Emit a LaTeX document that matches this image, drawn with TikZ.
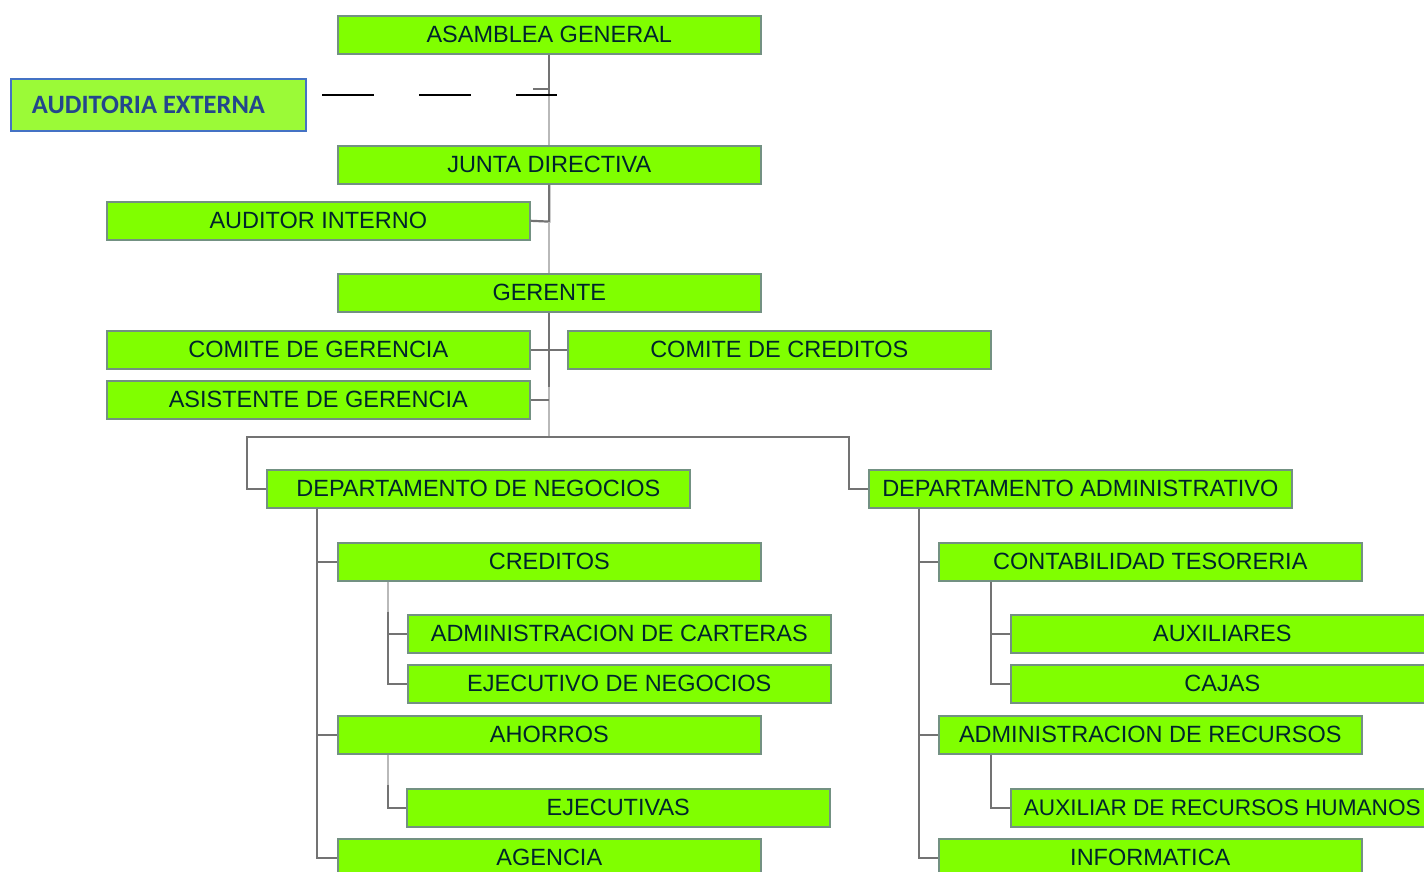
\documentclass[tikz,border=0pt]{standalone}
\usepackage{fontspec}
\setmainfont{Liberation Sans}
\newfontfamily\calibrifont{Carlito}
\definecolor{boxfill}{RGB}{128,255,0}
\definecolor{boxline}{RGB}{115,145,130}
\definecolor{boxtext}{RGB}{0,36,44}
\definecolor{extfill}{RGB}{155,250,55}
\definecolor{extline}{RGB}{68,114,196}
\definecolor{exttext}{RGB}{35,70,140}
\definecolor{conndark}{RGB}{115,115,115}
\definecolor{connlight}{RGB}{185,185,185}
\tikzset{
  unit/.style={rectangle, anchor=north west, fill=boxfill, draw=boxline, line width=1.6pt,
    minimum width=423pt, minimum height=38pt, inner sep=0pt, text=boxtext,
    font=\fontsize{23.5}{25}\selectfont},
  extbox/.style={rectangle, anchor=north west, fill=extfill, draw=extline, line width=2pt,
    minimum width=295pt, minimum height=52pt, inner sep=0pt, text=exttext,
    font=\calibrifont\bfseries\fontsize{26.5}{28}\selectfont},
  conn/.style={draw=conndark, line width=2.2pt},
  connsoft/.style={draw=connlight, line width=2.2pt},
  dashlink/.style={draw=black, line width=2pt, dash pattern=on 52pt off 45pt}
}
\begin{document}
\begin{tikzpicture}[x=1pt,y=-1pt]
\useasboundingbox (0,0) rectangle (1424,871);
\clip (0,0) rectangle (1424,871);

% governing bodies
\node[unit] (asamblea) at (337,15) {ASAMBLEA GENERAL};
\node[extbox] (externa) at (10,78) {\hbox{AUDITORIA EXTERNA\kern20pt}};
\node[unit] (junta) at (337,145) {JUNTA DIRECTIVA};
\node[unit] (interno) at (106,201) {AUDITOR INTERNO};
\node[unit] (gerente) at (337,273) {GERENTE};
\node[unit] (comger) at (106,330) {COMITE DE GERENCIA};
\node[unit] (comcred) at (567,330) {COMITE DE CREDITOS};
\node[unit] (asist) at (106,380) {ASISTENTE DE GERENCIA};

% departments
\node[unit] (negocios) at (266,469) {DEPARTAMENTO DE NEGOCIOS};
\node[unit] (admin) at (868,469) {DEPARTAMENTO ADMINISTRATIVO};

% business area
\node[unit] (creditos) at (337,542) {CREDITOS};
\node[unit] (carteras) at (407,614) {ADMINISTRACION DE CARTERAS};
\node[unit] (ejneg) at (407,664) {EJECUTIVO DE NEGOCIOS};
\node[unit] (ahorros) at (337,715) {AHORROS};
\node[unit] (ejecutivas) at (406,788) {EJECUTIVAS};
\node[unit] (agencia) at (337,838) {AGENCIA};

% administrative area
\node[unit] (contab) at (938,542) {CONTABILIDAD TESORERIA};
\node[unit] (auxiliares) at (1010,614) {AUXILIARES};
\node[unit] (cajas) at (1010,664) {CAJAS};
\node[unit] (recursos) at (938,715) {ADMINISTRACION DE RECURSOS};
\node[unit, font=\fontsize{22.6}{24}\selectfont] (rrhh) at (1010,788) {AUXILIAR DE RECURSOS HUMANOS};
\node[unit] (informatica) at (938,838) {INFORMATICA};

% main trunk
\path (asamblea.south) ++(0,40) coordinate (tone)
      (junta.south) ++(0,37) coordinate (auditjoin)
      (gerente.south) ++(0,74) coordinate (tfade)
      (gerente.south) ++(0,124) coordinate (split);
\coordinate (stub) at (533,89);
\draw[conn] (asamblea.south) -- (tone);
\draw[connsoft] (tone) -- (junta.north);
\draw[conn] (stub) -- (stub -| asamblea.south);
\draw[conn] (junta.south) -- (auditjoin) -- (interno.east);
\draw[connsoft] (auditjoin) -- (gerente.north);
\draw[conn] (gerente.south) -- (tfade);
\draw[connsoft] (tfade) -- (split);
\draw[conn] (comger.east) -- (comcred.west);
\draw[conn] (asist.east) -- (asist.east -| gerente.south);

% external audit link
\coordinate (dashstart) at (322,95);
\coordinate (dashend) at (557,95);
\draw[dashlink] (dashstart) -- (dashend);

% split to departments
\draw[conn] (split) -| ([xshift=-19pt]negocios.west) -- (negocios.west);
\draw[conn] (split) -| ([xshift=-19pt]admin.west) -- (admin.west);

% business area links
\draw[conn] ([xshift=51pt]negocios.south west) |- (creditos.west);
\draw[conn] ([xshift=51pt]negocios.south west) |- (ahorros.west);
\draw[conn] ([xshift=51pt]negocios.south west) |- (agencia.west);
\draw[connsoft] ([xshift=51pt]creditos.south west) -- ++(0,30);
\draw[conn] ([xshift=51pt]creditos.south west) ++(0,30) |- (carteras.west);
\draw[conn] ([xshift=51pt]creditos.south west) ++(0,30) |- (ejneg.west);
\draw[connsoft] ([xshift=51pt]ahorros.south west) -- ++(0,30);
\draw[conn] ([xshift=51pt]ahorros.south west) ++(0,30) |- (ejecutivas.west);

% administrative area links
\draw[conn] ([xshift=51pt]admin.south west) |- (contab.west);
\draw[conn] ([xshift=51pt]admin.south west) |- (recursos.west);
\draw[conn] ([xshift=51pt]admin.south west) |- (informatica.west);
\draw[conn] ([xshift=53pt]contab.south west) |- (auxiliares.west);
\draw[conn] ([xshift=53pt]contab.south west) |- (cajas.west);
\draw[conn] ([xshift=53pt]recursos.south west) |- (rrhh.west);
\end{tikzpicture}
\end{document}
